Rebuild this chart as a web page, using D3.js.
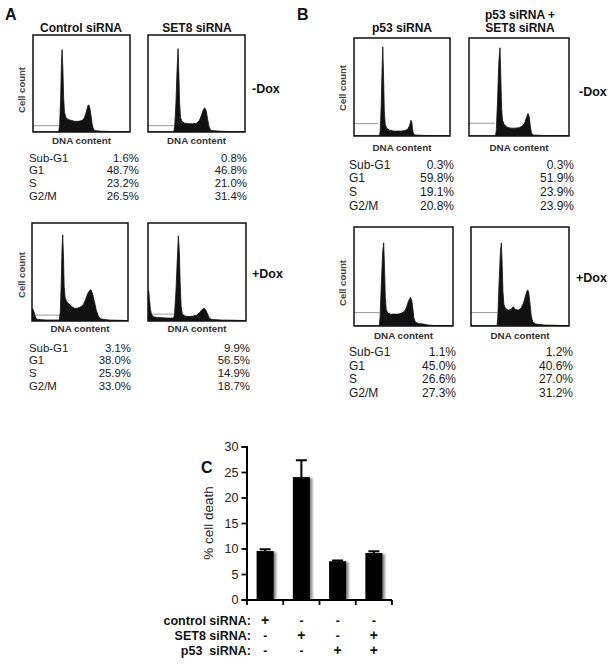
<!DOCTYPE html>
<html><head><meta charset="utf-8">
<script src="https://cdn.jsdelivr.net/npm/d3@7"></script>
<style>body{margin:0;background:#fff}svg{display:block;font-family:"Liberation Sans",Arial,sans-serif}</style>
</head><body>
<svg id="fig" width="612" height="666"></svg>
<script>
// ---------- DATA ----------
// Flow cytometry histograms: [DNA content channel (0-100), relative cell count (0-100)]
const histCtrlMinus = [[0,0],[26.5,0],[27.5,8],[28.5,35],[29.3,70],[30,85],[30.8,65],[31.6,35],[32.5,20],[34,15],[36,13],[39,12],[43,11],[47,11],[51,12],[53,15],[55,21],[56.5,27],[57.5,28],[58.5,25],[60,16],[61,8],[62,4],[63.5,1.5],[70,0.8],[80,0.5],[100,0.3]];
const histSet8Minus = [[0,0],[26.5,0],[27.5,6],[28.8,30],[30,65],[31,86],[31.8,60],[32.6,30],[33.5,15],[35,11],[38,9],[42,8.5],[46,8.5],[50,9],[53,12],[55,17],[57,23],[58.5,25],[60,22],[61.5,13],[63,5],[65,1.5],[72,1],[80,0.6],[100,0.3]];
const histCtrlPlus = [[0,13],[1,12],[2.5,8],[4,3],[6,1.5],[15,1],[28.5,1],[29.5,10],[30.5,40],[31.3,75],[32,88],[32.8,65],[33.5,35],[34.5,24],[36,20],[38,18],[41,15],[44,13],[47,13],[50,14],[53,16],[55.5,21],[58,28],[60,31],[61.5,32],[63,28],[65,20],[67,11],[69,5],[72,2],[80,1],[100,0.5]];
const histSet8Plus = [[0,32],[0.8,30],[1.5,22],[2.5,12],[3.5,7],[5,5],[7,4],[10,3.5],[20,3],[26,3],[27,6],[28.5,30],[30,65],[31,87],[32,70],[32.8,40],[33.8,15],[35,7],[38,5],[42,4.5],[46,5],[50,6],[53,9],[55.5,12],[57,13],[58.5,12],[60.5,8],[62.5,3],[65,1.5],[75,1],[100,0.5]];
const histP53Minus = [[0,0],[26.5,0],[27.3,5],[28.3,30],[29.3,70],[30,91],[30.8,60],[31.6,25],[32.5,12],[34,8],[37,6],[41,5],[45,5],[49,5],[53,5.5],[56,7],[58,11],[59.3,16],[60.3,14],[61,7],[62,2],[64,1],[75,0.5],[100,0.3]];
const histP53Set8Minus = [[0,0],[26.5,0],[27.3,6],[28.5,35],[29.8,75],[31,90],[31.8,60],[32.6,28],[33.5,16],[35,12],[38,9],[42,8],[46,8],[50,8.5],[53,10],[55.5,13],[57.5,19],[59,23],[60.2,20],[61.3,10],[62.5,3],[64,1],[75,0.5],[100,0.3]];
const histP53Plus = [[0,0],[25.5,0],[26.3,8],[27.5,40],[29,75],[30,84],[30.8,60],[31.6,30],[32.5,17],[34,13],[37,12],[41,12],[45,12],[48,13],[51,15],[53,19],[55,25],[57,29],[58.3,26],[59.5,17],[60.5,8],[62,4],[65,2.5],[70,2],[75,1],[80,0.5],[100,0.3]];
const histP53Set8Plus = [[0,2],[1,1],[2,0],[26.5,0],[27.3,8],[28.5,40],[30,75],[31,84],[31.8,62],[32.6,35],[33.5,22],[35,18],[38,16],[41,17],[43,19.5],[45,17],[48,16],[51,18],[53.5,23],[55.5,30],[57,35],[58,36.5],[59,33],[60.3,22],[61.5,10],[63,4],[66,2],[75,1],[100,0.3]];
// Sub-G1 gate markers: [start channel, end channel, level]
const gateCtrlMinus = [0,27,6.5], gateSet8Minus = [0,27,6.5], gateCtrlPlus = [4,29,6], gateSet8Plus = [3,27,7];
const gateP53Minus = [0,25,12.6], gateP53Set8Minus = [0,26,13], gateP53Plus = [0,26,13.5], gateP53Set8Plus = [0,27,13.5];

// Cell-cycle percentages
const phaseLabels = ["Sub-G1","G1","S","G2/M"];
const statsCtrlMinus = [1.6,48.7,23.2,26.5];
const statsSet8Minus = [0.8,46.8,21.0,31.4];
const statsCtrlPlus = [3.1,38.0,25.9,33.0];
const statsSet8Plus = [9.9,56.5,14.9,18.7];
const statsP53Minus = [0.3,59.8,19.1,20.8];
const statsP53Set8Minus = [0.3,51.9,23.9,23.9];
const statsP53Plus = [1.1,45.0,26.6,27.3];
const statsP53Set8Plus = [1.2,40.6,27.0,31.2];

// Panel C: % cell death
const deathValues = [9.5,24.0,7.5,9.1];
const deathErrors = [0.35,3.3,0.15,0.35];
const yTicksC = [0,5,10,15,20,25,30];
const siRNARows = ["control siRNA:","SET8 siRNA:","p53  siRNA:"];
const controlSigns = ["+","-","-","-"];
const set8Signs = ["-","+","-","+"];
const p53Signs = ["-","-","+","+"];

// ---------- DRAW ----------
const svg = d3.select("#fig");
const defs = svg.append("defs");
defs.append("filter").attr("id","blur").append("feGaussianBlur").attr("stdDeviation",1.3);

function hist(box, data, gate, id){
  const x = d3.scaleLinear().domain([0,100]).range([box.x0, box.x1]);
  const y = d3.scaleLinear().domain([0,100]).range([box.y1, box.y0]);
  defs.append("clipPath").attr("id","c"+id).append("rect")
    .attr("x",box.x0).attr("y",box.y0).attr("width",box.x1-box.x0).attr("height",box.y1-box.y0);
  const g = svg.append("g").attr("clip-path","url(#c"+id+")");
  g.append("line").attr("x1",x(gate[0])).attr("x2",x(gate[1])).attr("y1",y(gate[2])).attr("y2",y(gate[2]))
    .attr("stroke","#999").attr("stroke-width",1);
  g.append("path").datum(data)
    .attr("d", d3.area().x(d=>x(d[0])).y0(y(0)).y1(d=>y(d[1])))
    .attr("fill","#111").attr("stroke","#111").attr("stroke-width",0.8);
  svg.append("rect").attr("x",box.x0).attr("y",box.y0).attr("width",box.x1-box.x0).attr("height",box.y1-box.y0)
    .attr("fill","none").attr("stroke","#111").attr("stroke-width",1.5);
  svg.append("text").attr("x",(box.x0+box.x1)/2).attr("y",box.dnaY).attr("text-anchor","middle")
    .attr("font-size",9.8).attr("font-weight","bold").attr("fill","#333").text("DNA content");
}
function cellCount(x, yc){
  svg.append("text").attr("transform",`translate(${x},${yc}) rotate(-90)`).attr("text-anchor","middle")
    .attr("font-size",9.5).attr("font-weight","bold").attr("fill","#444").text("Cell count");
}
function stats(labelX, rightX1, rightX2, y0, dy, fs, s1, s2){
  phaseLabels.forEach((l,i)=>{
    const y = y0 + i*dy;
    svg.append("text").attr("x",labelX).attr("y",y).attr("font-size",fs).attr("fill","#1a1a1a").text(l);
    svg.append("text").attr("x",rightX1).attr("y",y).attr("text-anchor","end").attr("font-size",fs).attr("fill","#1a1a1a").text(s1[i].toFixed(1)+"%");
    svg.append("text").attr("x",rightX2).attr("y",y).attr("text-anchor","end").attr("font-size",fs).attr("fill","#1a1a1a").text(s2[i].toFixed(1)+"%");
  });
}
function txt(x,y,t,size,weight,anchor){
  svg.append("text").attr("x",x).attr("y",y).attr("font-size",size).attr("font-weight",weight||"normal")
    .attr("text-anchor",anchor||"start").attr("fill","#111").text(t);
}

// Panel A
txt(5,20,"A",16,"bold");
txt(81,32,"Control siRNA",12,"bold","middle");
txt(197,32,"SET8 siRNA",12,"bold","middle");
hist({x0:33,x1:130,y0:35,y1:132,dnaY:144}, histCtrlMinus, gateCtrlMinus, 1);
hist({x0:148,x1:245,y0:35,y1:132,dnaY:144}, histSet8Minus, gateSet8Minus, 2);
cellCount(25,90);
txt(252,93,"-Dox",12.5,"bold");
stats(29,139,247,161.5,12.85,11.4,statsCtrlMinus,statsSet8Minus);

hist({x0:32,x1:128,y0:223,y1:321,dnaY:332}, histCtrlPlus, gateCtrlPlus, 3);
hist({x0:148,x1:246,y0:223,y1:321,dnaY:332}, histSet8Plus, gateSet8Plus, 4);
cellCount(25,275);
txt(252,278,"+Dox",12.5,"bold");
stats(29,131,250,351.5,12.85,11.4,statsCtrlPlus,statsSet8Plus);

// Panel B
txt(297,20,"B",16,"bold");
txt(402,32,"p53 siRNA",12,"bold","middle");
txt(520,18.5,"p53 siRNA +",12,"bold","middle");
txt(520,32,"SET8 siRNA",12,"bold","middle");
hist({x0:354,x1:450,y0:38,y1:136,dnaY:151}, histP53Minus, gateP53Minus, 5);
hist({x0:469,x1:569,y0:38,y1:136,dnaY:151}, histP53Set8Minus, gateP53Set8Minus, 6);
cellCount(346,88);
txt(579,96,"-Dox",12.5,"bold");
stats(349,454,574,168.5,13.7,12,statsP53Minus,statsP53Set8Minus);

hist({x0:354,x1:453,y0:227,y1:326,dnaY:338.5}, histP53Plus, gateP53Plus, 7);
hist({x0:471,x1:569,y0:227,y1:326,dnaY:338.5}, histP53Set8Plus, gateP53Set8Plus, 8);
cellCount(346,283);
txt(576,282,"+Dox",12.5,"bold");
stats(349,456,573,356,13.5,12,statsP53Plus,statsP53Set8Plus);

// Panel C
txt(201,473,"C",16,"bold");
const yC = d3.scaleLinear().domain([0,30]).range([599.5,446.5]);
const xC = d3.scaleBand().domain(d3.range(deathValues.length)).range([247,392]).padding(0);
const barW = xC.bandwidth()*0.47;
const gC = svg.append("g");
// shadows
gC.selectAll("rect.sh").data(deathValues).join("rect").attr("class","sh")
  .attr("x",(d,i)=>xC(i)+(xC.bandwidth()-barW)/2+2.5).attr("y",d=>yC(d)+1)
  .attr("width",barW).attr("height",d=>yC(0)-yC(d)-1).attr("fill","#888").attr("filter","url(#blur)");
gC.selectAll("rect.bar").data(deathValues).join("rect").attr("class","bar")
  .attr("x",(d,i)=>xC(i)+(xC.bandwidth()-barW)/2).attr("y",d=>yC(d))
  .attr("width",barW).attr("height",d=>yC(0)-yC(d)).attr("fill","#000");
// error bars (upper only)
deathValues.forEach((v,i)=>{
  const cx = xC(i)+xC.bandwidth()/2;
  gC.append("line").attr("x1",cx).attr("x2",cx).attr("y1",yC(v)).attr("y2",yC(v+deathErrors[i])).attr("stroke","#000").attr("stroke-width",2);
  gC.append("line").attr("x1",cx-5.5).attr("x2",cx+5.5).attr("y1",yC(v+deathErrors[i])).attr("y2",yC(v+deathErrors[i])).attr("stroke","#000").attr("stroke-width",2);
});
// y axis
const yAxis = d3.axisLeft(yC).tickValues(yTicksC).tickSize(5).tickPadding(3);
const ga = svg.append("g").attr("transform","translate(246.5,0)").call(yAxis);
ga.select(".domain").attr("stroke","#000").attr("stroke-width",2);
ga.selectAll(".tick line").attr("stroke","#000").attr("stroke-width",1.8);
ga.selectAll(".tick text").attr("font-size",12.5).attr("fill","#222").attr("font-family","Liberation Sans, Arial, sans-serif");
// x axis line with ticks at band edges
const xEdges = d3.range(deathValues.length+1).map(i=> i<deathValues.length ? xC(i) : xC(i-1)+xC.bandwidth());
svg.append("line").attr("x1",246).attr("x2",392).attr("y1",600).attr("y2",600).attr("stroke","#000").attr("stroke-width",2);
svg.selectAll("line.xt").data(xEdges).join("line").attr("class","xt")
  .attr("x1",d=>d).attr("x2",d=>d).attr("y1",600).attr("y2",605).attr("stroke","#000").attr("stroke-width",1.8);
svg.append("text").attr("transform","translate(213,523) rotate(-90)").attr("text-anchor","middle")
  .attr("font-size",13.5).attr("fill","#222").text("% cell death");
// sign table
const signRows = [controlSigns,set8Signs,p53Signs];
const rowY = [625,640,655];
siRNARows.forEach((lab,r)=>{
  svg.append("text").attr("x",251).attr("y",rowY[r]).attr("text-anchor","end").attr("font-size",12.5)
    .attr("font-weight","bold").attr("fill","#111").attr("xml:space","preserve").style("white-space","pre").text(lab);
  signRows[r].forEach((s,i)=>{
    svg.append("text").attr("x",xC(i)+xC.bandwidth()/2).attr("y",rowY[r]).attr("text-anchor","middle")
      .attr("font-size",s==="+"?14:12).attr("font-weight","bold").attr("fill","#111").text(s);
  });
});
</script>
</body></html>
